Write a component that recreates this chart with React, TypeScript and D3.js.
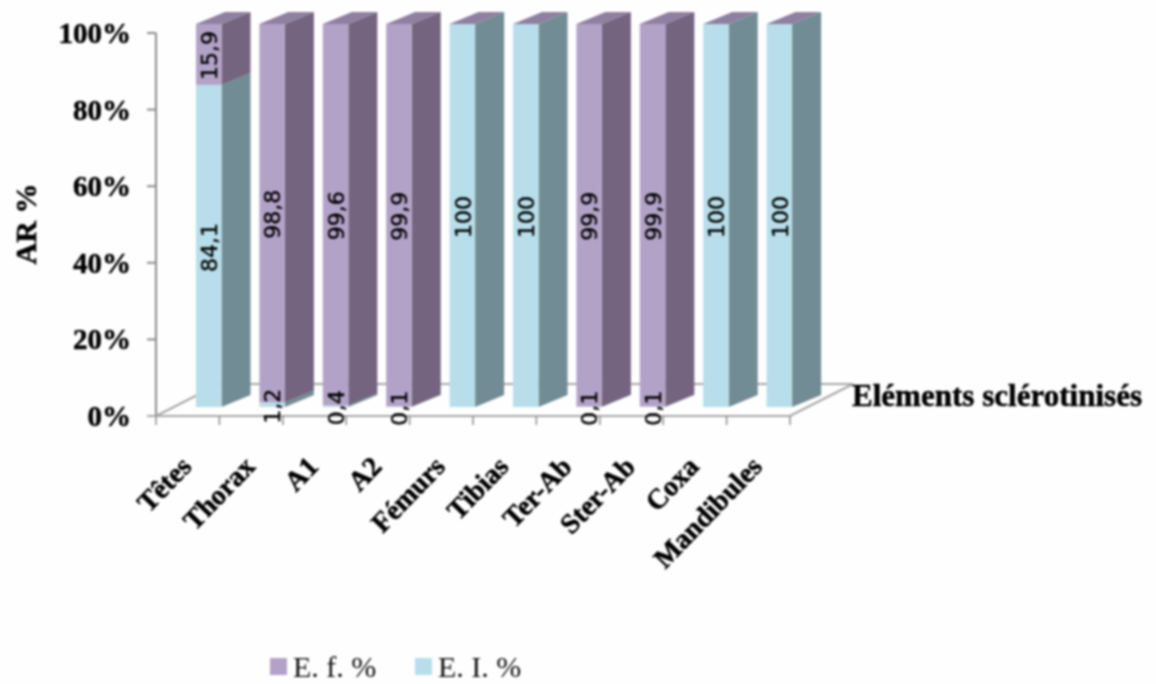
import React from "react";
import * as d3 from "d3";

const categories = ["Têtes", "Thorax", "A1", "A2", "Fémurs", "Tibias", "Ter-Ab", "Ster-Ab", "Coxa", "Mandibules"];
const eiValues = [84.1, 1.2, 0.4, 0.1, 100, 100, 0.1, 0.1, 100, 100];
const efValues = [15.9, 98.8, 99.6, 99.9, 0, 0, 99.9, 99.9, 0, 0];
const eiLabels = ["84,1", "1,2", "0,4", "0,1", "100", "100", "0,1", "0,1", "100", "100"];
const efLabels = ["15,9", "98,8", "99,6", "99,9", "", "", "99,9", "99,9", "", ""];
const yTicks = [0, 20, 40, 60, 80, 100];

const SERIF = "'Liberation Serif', serif";
const SANS = "'DejaVu Sans', sans-serif";
const PF = "#b3a2c7", PS = "#74647f", PT = "#8f7fa0";
const BF = "#b7deea", BS = "#718c94";

const AX = "#8c8c8c";
const y = d3.scaleLinear().domain([0, 100]).range([416, 33]);
const x = d3.scaleBand<string>().domain(categories).range([156, 790]);
const DX = 29, DY = -12;
const FX = 40, FY = -9; // front-face offset from the axis plane
const BW = 25.5;
const fx = (c: string) => (x(c) as number) + FX;
const fy = (v: number) => y(v) + FY;
const bold = { fill: "#000", stroke: "#000", strokeWidth: 0.5 };

export default function App() {
  return (
    <svg width={1156} height={684} style={{ position: "absolute", left: 0, top: 0, background: "#fefefe", filter: "blur(0.8px)" }}>
      {/* floor */}
      <path d="M156,416 L219,384 L853,384 L790,416 Z" fill="#fefefe" stroke="#a8a8a8" strokeWidth={2} />
      {/* y axis */}
      <line x1={156} x2={156} y1={y(0)} y2={y(100)} stroke={AX} strokeWidth={2} />
      {yTicks.map((t) => (
        <g key={t}>
          <line x1={147} x2={156} y1={y(t)} y2={y(t)} stroke={AX} strokeWidth={2} />
          <text x={131} y={y(t) + 10} textAnchor="end" fontFamily={SERIF} fontWeight="bold" fontSize={29} {...bold}>{t}%</text>
        </g>
      ))}
      {/* x axis */}
      <line x1={147} x2={790} y1={416} y2={416} stroke="#a8a8a8" strokeWidth={2} />
      {categories.map((c) => (
        <line key={c} x1={x(c) as number} x2={x(c) as number} y1={416} y2={425} stroke={AX} strokeWidth={1.5} />
      ))}
      <line x1={790} x2={790} y1={416} y2={425} stroke={AX} strokeWidth={1.5} />
      {/* bars */}
      {categories.map((c, i) => {
        const X = fx(c);
        const yMid = fy(eiValues[i]);
        const yB = fy(0), yT = fy(100);
        return (
          <g key={c}>
            <polygon points={`${X + BW},${yB} ${X + BW + DX},${yB + DY} ${X + BW + DX},${yMid + DY} ${X + BW},${yMid}`} fill={BS} />
            <polygon points={`${X + BW},${yMid} ${X + BW + DX},${yMid + DY} ${X + BW + DX},${yT + DY} ${X + BW},${yT}`} fill={PS} />
            <polygon points={`${X},${yT} ${X + BW},${yT} ${X + BW + DX},${yT + DY} ${X + DX},${yT + DY}`} fill={PT} />
            <rect x={X} y={yMid} width={BW} height={yB - yMid} fill={BF} />
            <rect x={X} y={yT} width={BW} height={yMid - yT} fill={PF} />
          </g>
        );
      })}
      {/* value labels */}
      {categories.map((c, i) => {
        const lx = fx(c) + 21;
        const yMid = fy(eiValues[i]);
        const yB = fy(0), yT = fy(100);
        return (
          <g key={c} fontFamily={SANS} fontSize={22} fill="#000" stroke="#000" strokeWidth={0.4} textAnchor="middle">
            <text transform={`translate(${lx},${(yMid + yB) / 2 + 1.5}) rotate(-90)`}>{eiLabels[i]}</text>
            {efLabels[i] && <text transform={`translate(${lx},${(yMid + yT) / 2 + 1}) rotate(-90)`}>{efLabels[i]}</text>}
          </g>
        );
      })}
      {/* category labels */}
      {categories.map((c) => (
        <text key={c} transform={`translate(${(x(c) as number) + 37},468) rotate(-46)`} textAnchor="end" fontFamily={SERIF} fontWeight="bold" fontSize={28} {...bold}>{c}</text>
      ))}
      <text x={852} y={406} fontFamily={SERIF} fontWeight="bold" fontSize={31} {...bold} textLength={290} lengthAdjust="spacingAndGlyphs">Eléments sclérotinisés</text>
      <text transform="translate(36,224) rotate(-90)" textAnchor="middle" fontFamily={SERIF} fontWeight="bold" fontSize={30} {...bold}>AR %</text>
      {/* legend */}
      <rect x={270} y={658} width={17} height={17} fill={PF} />
      <text x={293} y={677} fontFamily={SERIF} fontSize={30} fill="#111">E. f. %</text>
      <rect x={415} y={658} width={17} height={17} fill={BF} />
      <text x={438} y={677} fontFamily={SERIF} fontSize={30} fill="#111">E. I. %</text>
    </svg>
  );
}
